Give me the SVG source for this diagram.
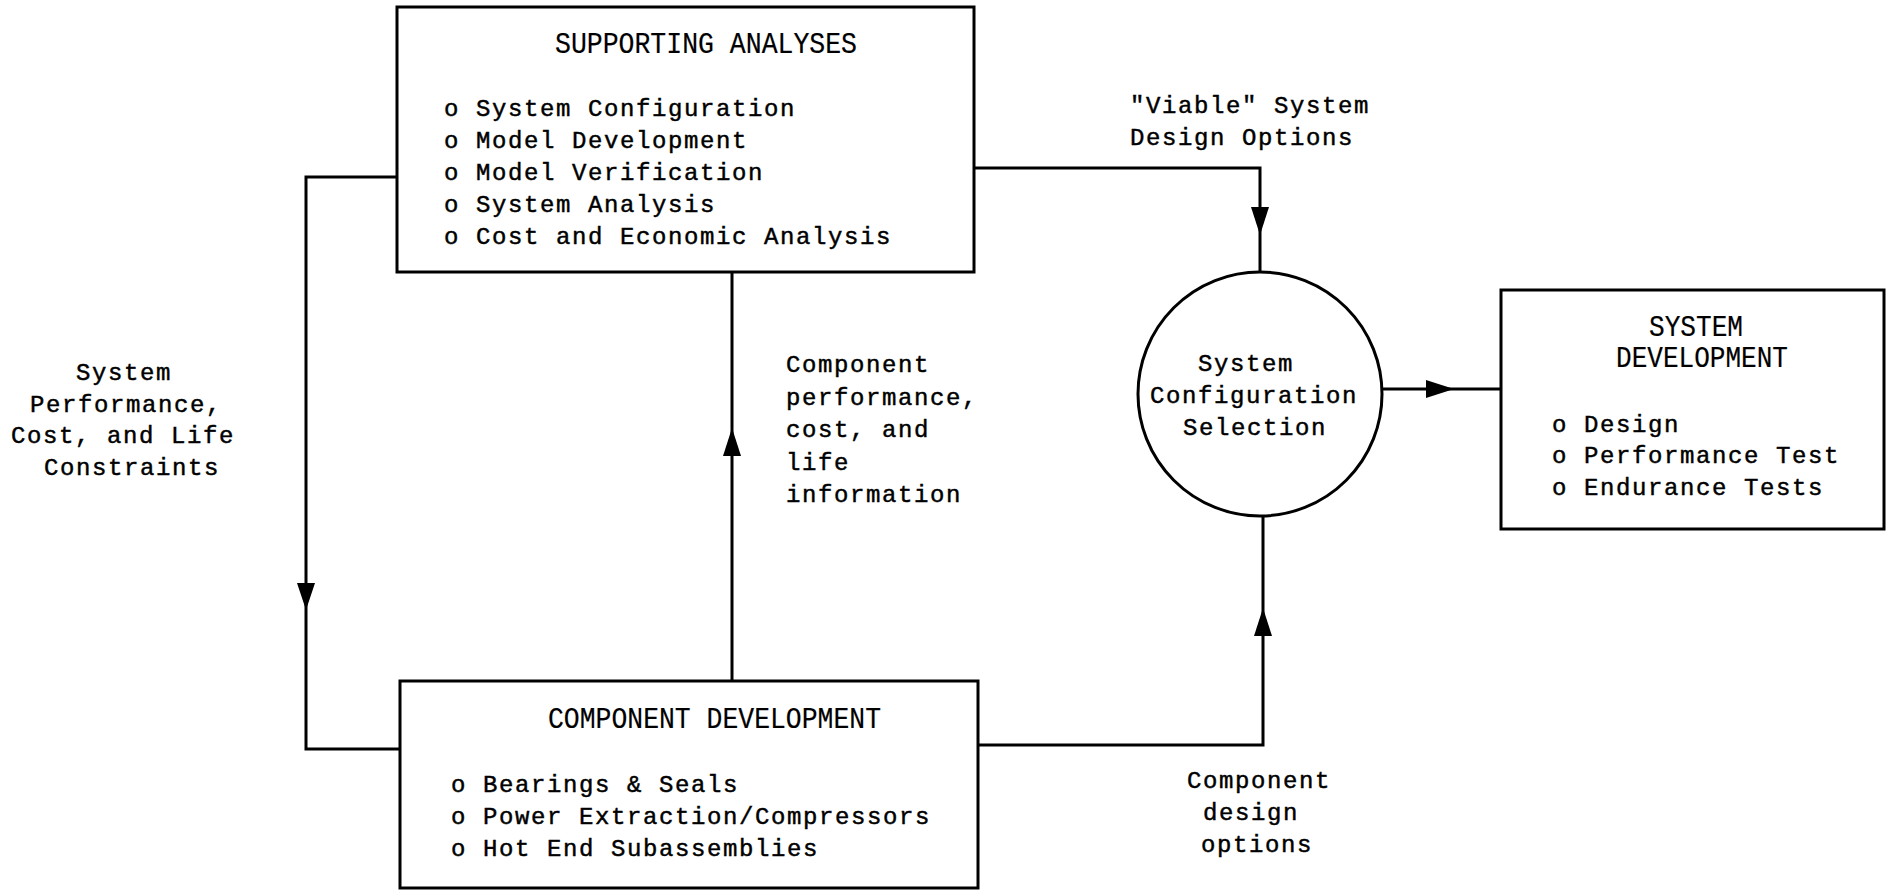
<svg xmlns="http://www.w3.org/2000/svg" width="1888" height="890" viewBox="0 0 1888 890">
<style>
.box{fill:#fff;stroke:#000;stroke-width:3}
.ln{fill:none;stroke:#000;stroke-width:3;stroke-linejoin:miter}
.ah{fill:#000;stroke:none}
.t{font-family:"Liberation Mono","Courier New",monospace;font-size:24px;letter-spacing:1.6px;fill:#000;stroke:#000;stroke-width:0.45}
.h{font-family:"Liberation Mono","Courier New",monospace;font-size:30px;fill:#000;stroke:#000;stroke-width:0.2}
</style>
<rect width="1888" height="890" fill="#fff"/>
<g id="connectors">
<path class="ln" d="M397,177 H306 V749 H400"/>
<polygon class="ah" points="297,583 315,583 306,610"/>
<path class="ln" d="M732,272 V681"/>
<polygon class="ah" points="723,456 741,456 732,428"/>
<path class="ln" d="M974,168 H1260 V272"/>
<polygon class="ah" points="1251,207 1269,207 1260,235"/>
<path class="ln" d="M978,745 H1263 V516"/>
<polygon class="ah" points="1254,636 1272,636 1263,608"/>
<path class="ln" d="M1382,389 H1501"/>
<polygon class="ah" points="1426,380 1426,398 1454,389"/>
</g>
<g id="supporting-analyses">
<rect class="box" x="397" y="7" width="577" height="265"/>
<text class="h" x="555" y="53" textLength="302" lengthAdjust="spacingAndGlyphs">SUPPORTING ANALYSES</text>
<text class="t" x="444" y="116">o System Configuration</text>
<text class="t" x="444" y="148">o Model Development</text>
<text class="t" x="444" y="180">o Model Verification</text>
<text class="t" x="444" y="212">o System Analysis</text>
<text class="t" x="444" y="244">o Cost and Economic Analysis</text>
</g>
<g id="component-development">
<rect class="box" x="400" y="681" width="578" height="207"/>
<text class="h" x="548" y="728" textLength="333" lengthAdjust="spacingAndGlyphs">COMPONENT DEVELOPMENT</text>
<text class="t" x="451" y="792">o Bearings &amp; Seals</text>
<text class="t" x="451" y="824">o Power Extraction/Compressors</text>
<text class="t" x="451" y="856">o Hot End Subassemblies</text>
</g>
<g id="system-configuration-selection">
<circle class="box" cx="1260" cy="394" r="122"/>
<text class="t" x="1198" y="371">System</text>
<text class="t" x="1150" y="403">Configuration</text>
<text class="t" x="1183" y="435">Selection</text>
</g>
<g id="system-development">
<rect class="box" x="1501" y="290" width="383" height="239"/>
<text class="h" x="1649" y="336" textLength="94" lengthAdjust="spacingAndGlyphs">SYSTEM</text>
<text class="h" x="1616" y="367" textLength="172" lengthAdjust="spacingAndGlyphs">DEVELOPMENT</text>
<text class="t" x="1552" y="432">o Design</text>
<text class="t" x="1552" y="463">o Performance Test</text>
<text class="t" x="1552" y="495">o Endurance Tests</text>
</g>
<g id="labels">
<text class="t" x="76" y="380">System</text>
<text class="t" x="30" y="412">Performance,</text>
<text class="t" x="11" y="443">Cost, and Life</text>
<text class="t" x="44" y="475">Constraints</text>
<text class="t" x="786" y="372">Component</text>
<text class="t" x="786" y="405">performance,</text>
<text class="t" x="786" y="437">cost, and</text>
<text class="t" x="786" y="470">life</text>
<text class="t" x="786" y="502">information</text>
<text class="t" x="1130" y="113">"Viable" System</text>
<text class="t" x="1130" y="145">Design Options</text>
<text class="t" x="1187" y="788">Component</text>
<text class="t" x="1203" y="820">design</text>
<text class="t" x="1201" y="852">options</text>
</g>
</svg>
